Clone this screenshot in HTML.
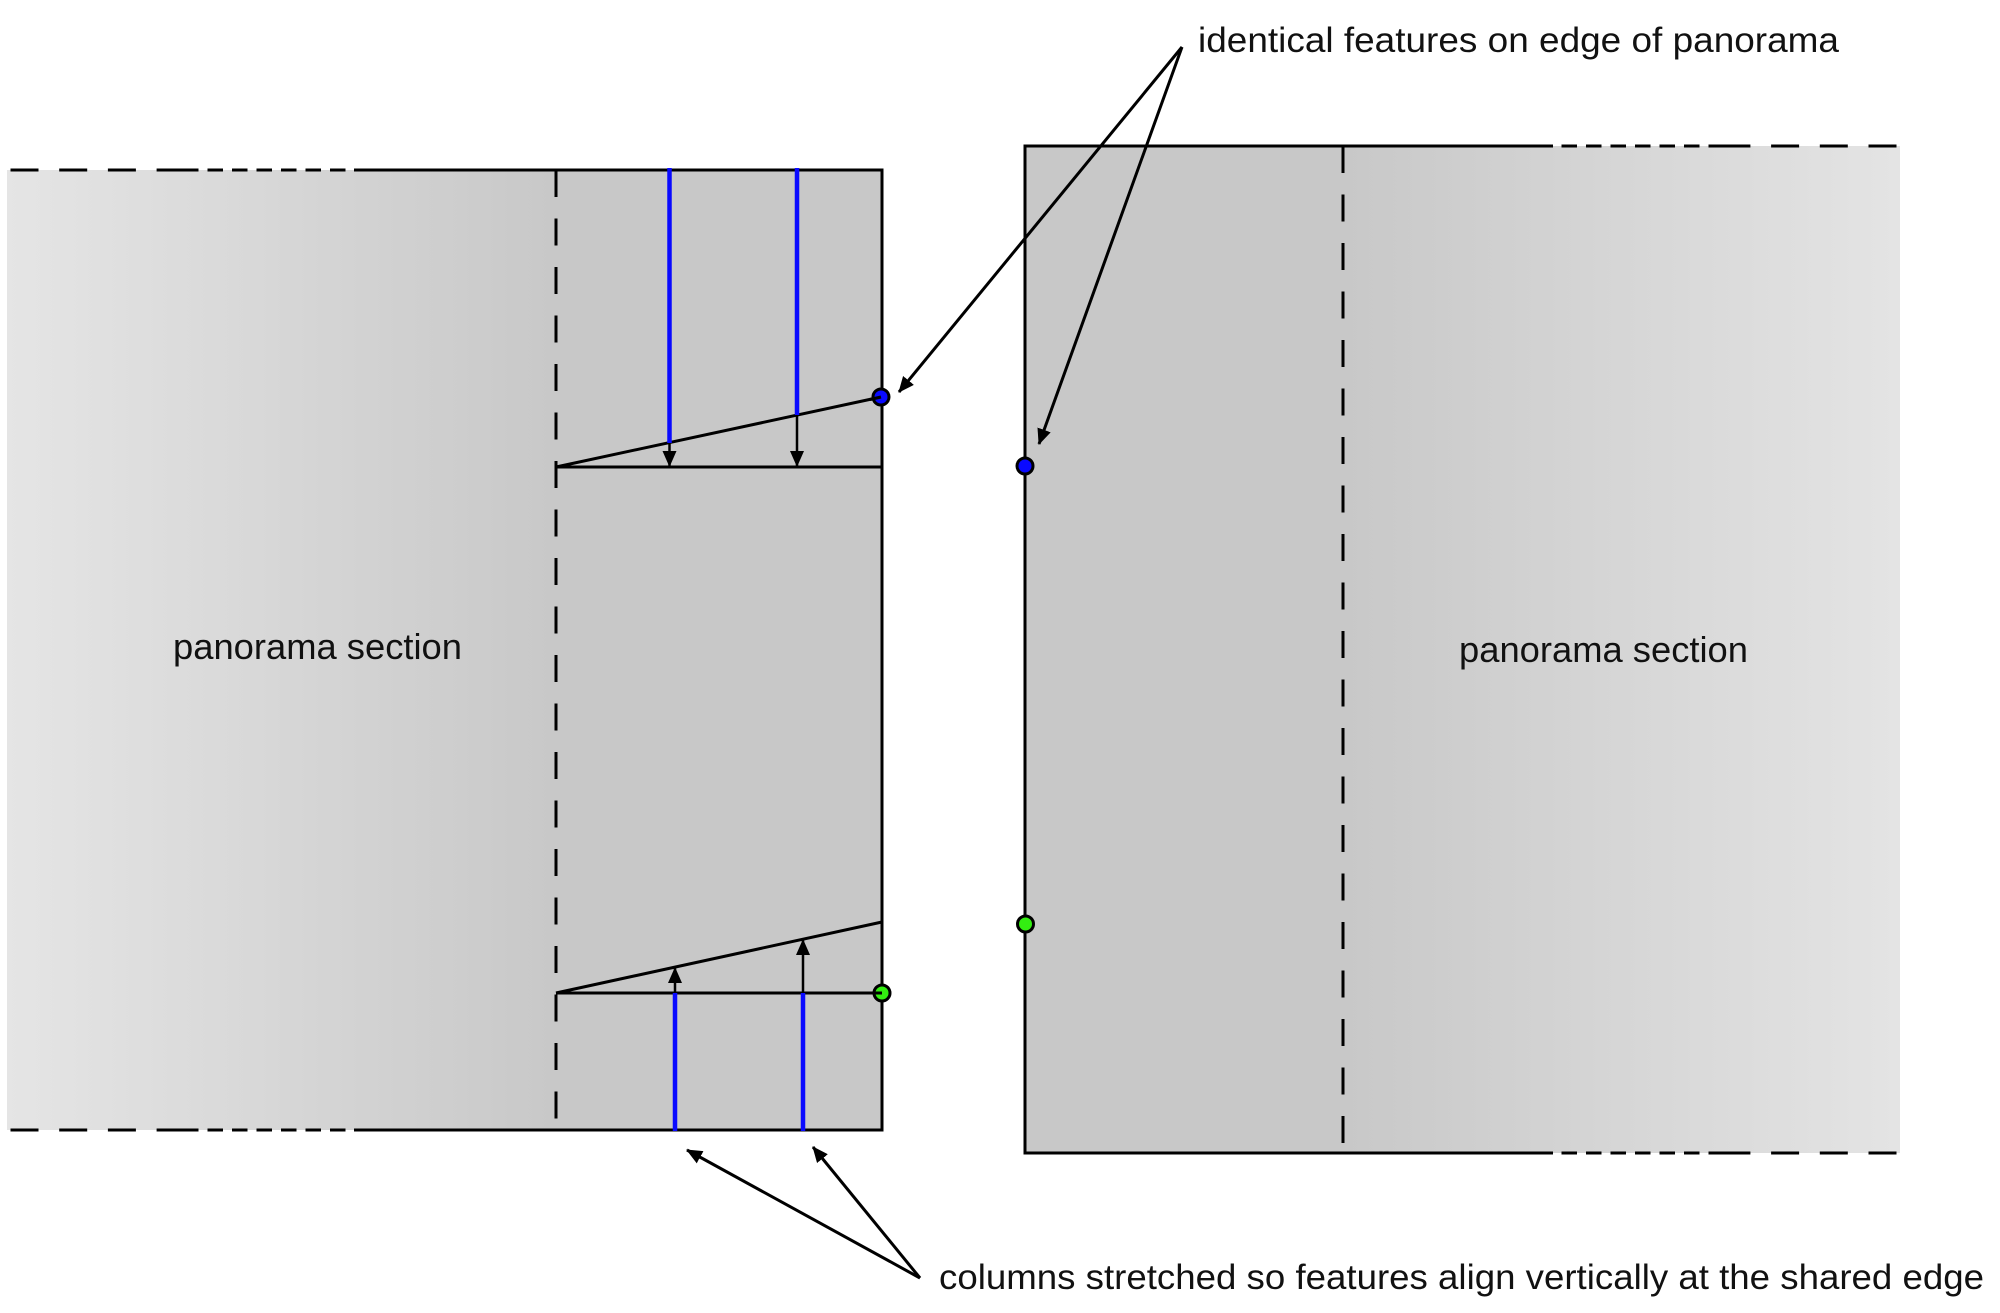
<!DOCTYPE html>
<html>
<head>
<meta charset="utf-8">
<style>
html,body{margin:0;padding:0;background:#fff;}
svg{display:block;}
text{font-family:"Liberation Sans","DejaVu Sans",sans-serif;fill:#111;}
</style>
</head>
<body>
<svg width="2000" height="1313" viewBox="0 0 2000 1313" xmlns="http://www.w3.org/2000/svg">
<defs>
  <linearGradient id="gl" x1="7" y1="0" x2="556" y2="0" gradientUnits="userSpaceOnUse">
    <stop offset="0" stop-color="#e5e5e5"/>
    <stop offset="1" stop-color="#c8c8c8"/>
  </linearGradient>
  <linearGradient id="gr" x1="1343" y1="0" x2="1900" y2="0" gradientUnits="userSpaceOnUse">
    <stop offset="0" stop-color="#c8c8c8"/>
    <stop offset="1" stop-color="#e4e4e4"/>
  </linearGradient>
  <marker id="ah" viewBox="0 0 16 14" refX="15" refY="7" markerWidth="16" markerHeight="14" markerUnits="userSpaceOnUse" orient="auto">
    <path d="M0,0 L16,7 L0,14 z" fill="#000"/>
  </marker>
</defs>

<!-- LEFT BOX fills -->
<rect x="7" y="170" width="549" height="960" fill="url(#gl)"/>
<rect x="556" y="170" width="326" height="960" fill="#c8c8c8"/>

<!-- RIGHT BOX fills -->
<rect x="1025" y="146" width="318" height="1007" fill="#c8c8c8"/>
<rect x="1343" y="146" width="557" height="1007" fill="url(#gr)"/>

<g stroke="#000" stroke-width="3" fill="none">
  <!-- left box top edge -->
  <path d="M10.5 170 H185" stroke-dasharray="28 20.7"/>
  <path d="M183 170 H354" stroke-dasharray="15.5 9"/>
  <path d="M354 170 H882"/>
  <!-- left box bottom edge -->
  <path d="M10.5 1130 H185" stroke-dasharray="28 20.7"/>
  <path d="M183 1130 H354" stroke-dasharray="15.5 9"/>
  <path d="M354 1130 H882"/>
  <!-- left box right edge -->
  <path d="M882 168.5 V1131.5"/>
  <!-- left dashed divider -->
  <path d="M556 170 V1130" stroke-dasharray="27 21.5"/>

  <!-- right box top edge -->
  <path d="M1896.5 146 H1722" stroke-dasharray="28 20.7"/>
  <path d="M1724 146 H1553" stroke-dasharray="15.5 9"/>
  <path d="M1553 146 H1025"/>
  <!-- right box bottom edge -->
  <path d="M1896.5 1153 H1722" stroke-dasharray="28 20.7"/>
  <path d="M1724 1153 H1553" stroke-dasharray="15.5 9"/>
  <path d="M1553 1153 H1025"/>
  <!-- right box left edge -->
  <path d="M1025 144.5 V1154.5"/>
  <!-- right dashed divider -->
  <path d="M1343 146 V1153" stroke-dasharray="27 21.5"/>

  <!-- top stretch construction -->
  <path d="M556 467 H882"/>
  <path d="M556 467 L881 397"/>
  <!-- bottom stretch construction -->
  <path d="M556 993 H882"/>
  <path d="M556 993 L882 922"/>
</g>

<!-- blue column lines -->
<g stroke="#0a0aff" stroke-width="4.5">
  <path d="M669.5 168 V443"/>
  <path d="M797 168 V415"/>
  <path d="M675 993 V1131"/>
  <path d="M803 993 V1131"/>
</g>

<!-- small stretch arrows -->
<g stroke="#000" stroke-width="2.5" fill="none" marker-end="url(#ah)">
  <path d="M669.5 443 V466"/>
  <path d="M797 415 V466"/>
  <path d="M675 993 V968"/>
  <path d="M803 993 V940"/>
</g>

<!-- feature dots -->
<circle cx="881" cy="397" r="8" fill="#0a0aff" stroke="#000" stroke-width="3"/>
<path d="M870 399.5 L881 397" stroke="#000" stroke-width="3"/>
<circle cx="882" cy="993" r="8" fill="#33ee11" stroke="#000" stroke-width="3"/>
<path d="M872 993 H882" stroke="#000" stroke-width="3"/>
<circle cx="1025" cy="466" r="8" fill="#0a0aff" stroke="#000" stroke-width="3"/>
<circle cx="1025.5" cy="924" r="8" fill="#33ee11" stroke="#000" stroke-width="3"/>

<!-- annotation arrows -->
<g stroke="#000" stroke-width="3" fill="none" marker-end="url(#ah)">
  <path d="M1182 47 L899 392"/>
  <path d="M1182 47 L1039 444"/>
  <path d="M920 1278 L687 1150"/>
  <path d="M920 1278 L813 1147"/>
</g>

<!-- labels -->
<text x="1198" y="52" font-size="35" textLength="641" lengthAdjust="spacingAndGlyphs">identical features on edge of panorama</text>
<text x="173" y="659" font-size="36" textLength="289" lengthAdjust="spacingAndGlyphs">panorama section</text>
<text x="1459" y="662" font-size="36" textLength="289" lengthAdjust="spacingAndGlyphs">panorama section</text>
<text x="939" y="1289" font-size="35" textLength="1045" lengthAdjust="spacingAndGlyphs">columns stretched so features align vertically at the shared edge</text>
</svg>
</body>
</html>
